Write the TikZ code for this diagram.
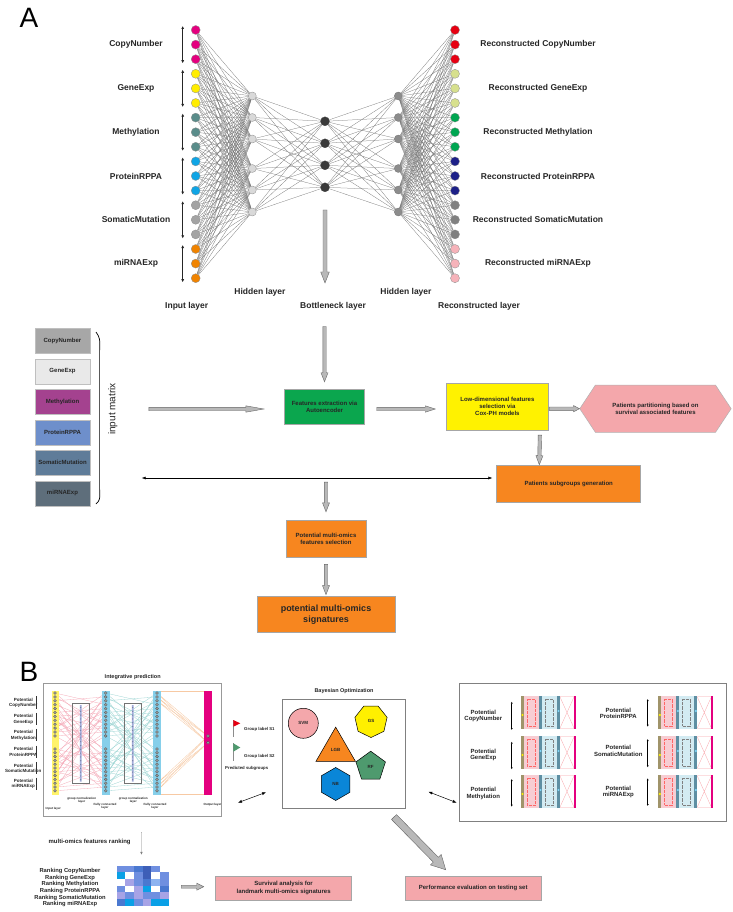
\documentclass[tikz,border=0pt]{standalone}
\usepackage{fontspec}
\setmainfont{Liberation Sans}
\usepackage{tikz}
\usetikzlibrary{arrows.meta, positioning, calc, shapes.geometric, shapes.symbols}
\usepackage{xcolor}

\definecolor{cnC}{HTML}{E4007F}
\definecolor{geC}{HTML}{FFED00}
\definecolor{meC}{HTML}{5A8C8A}
\definecolor{prC}{HTML}{10A5E5}
\definecolor{smC}{HTML}{A3A3A3}
\definecolor{miC}{HTML}{F08300}
\definecolor{rcnC}{HTML}{E60012}
\definecolor{rgeC}{HTML}{D7E08E}
\definecolor{rmeC}{HTML}{00A651}
\definecolor{rprC}{HTML}{1D2088}
\definecolor{rsmC}{HTML}{808080}
\definecolor{rmiC}{HTML}{F6B3BA}
\definecolor{hidC}{HTML}{D9D9D9}
\definecolor{botC}{HTML}{3A3A3A}
\definecolor{hidtwoC}{HTML}{8C8C8C}
\definecolor{mcnC}{HTML}{A7A7A7}
\definecolor{mgeC}{HTML}{E9E9E9}
\definecolor{mmeC}{HTML}{A4428F}
\definecolor{mprC}{HTML}{6E8FCB}
\definecolor{msmC}{HTML}{5F7C99}
\definecolor{mmiC}{HTML}{5E6E7B}
\definecolor{greenBox}{HTML}{0BA64E}
\definecolor{yellowBox}{HTML}{FFF200}
\definecolor{pinkBox}{HTML}{F4A7AB}
\definecolor{orangeBox}{HTML}{F7861F}
\definecolor{txtC}{HTML}{262626}
\definecolor{ipYel}{HTML}{FFF36B}
\definecolor{fcBlue}{HTML}{86CFEA}
\definecolor{gnBar}{HTML}{A3ADDB}
\definecolor{pinkLine}{HTML}{F5A9B8}
\definecolor{tealLine}{HTML}{9ED6D4}
\definecolor{orLine}{HTML}{F7C9A3}
\definecolor{netPink}{HTML}{F7CDD3}
\definecolor{netBlue}{HTML}{D3EBF2}
\definecolor{netOlive}{HTML}{A0946A}
\definecolor{netSteel}{HTML}{5E8FA3}
\definecolor{gsC}{HTML}{FFF000}
\definecolor{rfC}{HTML}{4E9A6E}
\definecolor{nbC}{HTML}{0A86D8}
\definecolor{hmA}{HTML}{4A78D0}
\definecolor{hmB}{HTML}{6F8FE0}
\definecolor{hmD}{HTML}{0AA0E6}
\definecolor{hmE}{HTML}{A7A3E6}
\definecolor{hmF}{HTML}{8DB3F0}
\definecolor{hmG}{HTML}{3D5FB8}

\begin{document}
\begin{tikzpicture}[
    x=1pt, y=-1pt,
    neuron/.style={circle, draw=black!45, line width=0.3pt, minimum size=9pt, inner sep=0pt},
    link/.style={draw=black!55, line width=0.25pt},
    lab/.style={font=\bfseries\fontsize{8.5}{10}\selectfont, text=txtC},
    blab/.style={font=\bfseries\fontsize{6}{6.8}\selectfont, text=txtC, align=center},
    xslab/.style={font=\bfseries\fontsize{4.5}{5.5}\selectfont, text=txtC, align=center},
    microlab/.style={font=\bfseries\fontsize{3}{3.4}\selectfont, text=txtC, align=center},
    box/.style={draw=black!35, line width=0.5pt, rectangle, align=center, inner sep=1pt, font=\bfseries\fontsize{6}{7.2}\selectfont, text=txtC},
    mbox/.style={box, draw=black!25, minimum width=55pt, minimum height=25pt},
    bracket/.style={{Latex[length=3pt,width=3pt]}-{Latex[length=3pt,width=3pt]}, line width=1.2pt, black!85},
    dbl/.style={{Latex[length=4pt,width=3pt]}-{Latex[length=4pt,width=3pt]}, line width=0.5pt},
    fat w/.store in=\fatw, fat h/.store in=\fath, fat l/.store in=\fatl,
    fat w=1.7pt, fat h=3.5pt, fat l=9pt,
    fatarrow/.style={draw=black!60, fill=black!28, line width=0.4pt,
      to path={let \p1=(\tikztostart), \p2=(\tikztotarget),
        \n1={atan2(\y2-\y1,\x2-\x1)}, \n2={veclen(\x2-\x1,\y2-\y1)} in
        ([shift={(\p1)},rotate=\n1]0pt,-\fatw) -- ([shift={(\p1)},rotate=\n1]{\n2-\fatl},-\fatw)
        -- ([shift={(\p1)},rotate=\n1]{\n2-\fatl},-\fath) -- (\p2)
        -- ([shift={(\p1)},rotate=\n1]{\n2-\fatl},\fath) -- ([shift={(\p1)},rotate=\n1]{\n2-\fatl},\fatw)
        -- ([shift={(\p1)},rotate=\n1]0pt,\fatw) -- cycle}}
]
\fill[white] (0,0) rectangle (732,912);
\useasboundingbox (0,0) rectangle (732,912);

% Painel A: autoencoder
\node[font=\fontsize{28}{30}\selectfont] (panelA) at (29,18) {A};

\foreach \col/\omic [count=\k] in {cnC/CopyNumber, geC/GeneExp, meC/Methylation, prC/ProteinRPPA, smC/SomaticMutation, miC/miRNAExp} {
  \foreach \j in {1,2,3} {
    \pgfmathtruncatemacro{\i}{3*(\k-1)+\j}
    \node[neuron, fill=\col] (in\i) at (195.7,{30+14.6*(\i-1)}) {};
  }
  \pgfmathtruncatemacro{\a}{3*\k-2}
  \pgfmathtruncatemacro{\m}{3*\k-1}
  \pgfmathtruncatemacro{\b}{3*\k}
  \node[lab] (lin\k) at ($(in\m)+(-59.7,0)$) {\omic};
  \draw[bracket] ($(in\a)+(-13,-4)$) -- ($(in\b)+(-13,4)$);
}

\foreach \col/\omic [count=\k] in {rcnC/CopyNumber, rgeC/GeneExp, rmeC/Methylation, rprC/ProteinRPPA, rsmC/SomaticMutation, rmiC/miRNAExp} {
  \foreach \j in {1,2,3} {
    \pgfmathtruncatemacro{\i}{3*(\k-1)+\j}
    \node[neuron, fill=\col] (out\i) at (455,{30+14.6*(\i-1)}) {};
  }
  \pgfmathtruncatemacro{\m}{3*\k-1}
  \node[lab] (lout\k) at ($(out\m)+(83,0)$) {Reconstructed \omic};
}

% camadas escondidas
\foreach \y [count=\i] in {96,117.5,139,168.5,190,212} {
  \node[neuron, fill=hidC, minimum size=8pt] (h\i) at (252.3,\y) {};
  \node[neuron, fill=hidtwoC, draw=black!55, minimum size=8pt] (g\i) at (398.3,\y) {};
}
\foreach \i in {1,...,4}
  \node[neuron, fill=botC, draw=botC] (b\i) at (325,{121.3+22*(\i-1)}) {};

% ligacoes
\foreach \i in {1,...,18} {
  \foreach \j in {1,...,6} {
    \draw[link] (in\i) -- (h\j);
    \draw[link] (g\j) -- (out\i);
  }
}
\foreach \i in {1,...,6} {
  \foreach \j in {1,...,4} {
    \draw[link] (h\i) -- (b\j);
    \draw[link] (b\j) -- (g\i);
  }
}

\node[lab] (linput) at (186.7,306.7) {Input layer};
\node[lab] (lhid) at (260,292.7) {Hidden layer};
\node[lab] (lbot) at (333,306.7) {Bottleneck layer};
\node[lab] (lhidtwo) at (406,292.7) {Hidden layer};
\node[lab] (lrec) at (479,306.7) {Reconstructed layer};

% Fluxo principal
\node[mbox, fill=mcnC] (m1) at (62.5,340.8) {CopyNumber};
\node[mbox, fill=mgeC, below=5pt of m1] (m2) {GeneExp};
\node[mbox, fill=mmeC, below=5pt of m2] (m3) {Methylation};
\node[mbox, fill=mprC, below=5pt of m3] (m4) {ProteinRPPA};
\node[mbox, fill=msmC, below=5pt of m4] (m5) {SomaticMutation};
\node[mbox, fill=mmiC, below=5pt of m5] (m6) {miRNAExp};
\draw[line width=0.7pt] (96,332) .. controls (100,338) .. (99.6,352) -- (99.6,488) .. controls (100,500) .. (96,504);
\node[rotate=90, font=\fontsize{10}{12}\selectfont, text=txtC] (inmat) at (112.7,409) {input matrix};

\node[box, fill=greenBox, minimum width=80pt, minimum height=35pt] (fe) at (324.5,406.5) {Features extraction via\\Autoencoder};
\node[box, fill=yellowBox, minimum width=101.7pt, minimum height=46.7pt, right=81.5pt of fe] (ld) {Low-dimensional features\\selection via\\Cox-PH models};
\node[box, signal, signal to=east and west, signal pointer angle=113, draw=black!30, fill=pinkBox, minimum width=151.4pt, minimum height=47.3pt, right=31pt of ld, yshift=-2.2pt] (pp) {Patients partitioning based on\\survival associated features};
\node[box, fill=orangeBox, minimum width=144pt, minimum height=37.7pt] (psg) at (568.7,483.8) {Patients subgroups generation};
\node[box, fill=orangeBox, minimum width=80pt, minimum height=37.3pt] (pmfs) at (326,538.7) {Potential multi-omics\\features selection};
\node[box, fill=orangeBox, minimum width=137.7pt, minimum height=36pt, font=\bfseries\fontsize{9}{10.5}\selectfont, below=38.7pt of pmfs] (pms) {potential multi-omics\\signatures};

% Setas
\draw[fatarrow, fat w=2pt, fat h=4.3pt, fat l=11pt] ($(b4.south)+(0,18)$) to ($(b4.south)+(0,91)$);
\draw[fatarrow] ($(fe.north)+(0,-62.3)$) to ($(fe.north)+(0,-7)$);
\draw[fatarrow, fat l=18pt, fat h=3.2pt] ($(inmat.south)+(28,0)$) to ($(fe.west)+(-20.4,2.5)$);
\draw[fatarrow, fat h=3.2pt, fat l=10pt] ($(fe.east)+(12,2.5)$) to ($(ld.west)+(-11,2.5)$);
\draw[fatarrow, fat h=3.2pt, fat l=6pt] ($(ld.east)+(0.6,2.2)$) to (pp.west);
\draw[fatarrow] ($(ld.south)+(42.5,5)$) to ($(psg.north)+(-29.4,0)$);
\coordinate (back) at (141.7,478);
\draw[dbl] (back) -- ($(psg.west)+(-4,-5.8)$);
\draw[fatarrow] ($(pmfs.north)+(0,-37.7)$) to ($(pmfs.north)+(0,-8)$);
\draw[fatarrow] ($(pmfs.south)+(0,6.7)$) to ($(pms.north)+(0,-1.7)$);

% Painel B
\node[font=\fontsize{28}{30}\selectfont] (panelB) at (29,672) {B};

% predicao integrativa
\node[font=\bfseries\fontsize{5.5}{6.5}\selectfont, text=txtC] (iptitle) at (132.7,676.7) {Integrative prediction};
\node[draw=black!40, line width=0.8pt, minimum width=177.7pt, minimum height=133.4pt, inner sep=0pt] (ipbox) at (132.15,750) {};
\foreach \omic/\y [count=\k] in {CopyNumber/702.7, GeneExp/719.3, Methylation/735.3, ProteinRPPA/752, SomaticMutation/768.3, miRNAExp/784} {
  \node[xslab] (pl\k) at (23.3,\y) {Potential\\\omic};
  \draw[line width=1pt, black!80] (36.7,\y-6.5) -- (36.7,\y+6);
}
\foreach \i in {0,...,23} {
  \pgfmathsetmacro{\ya}{ifthenelse(\i<12, 693+3.9*\i, 749+3.8*(\i-12))}
  \pgfmathtruncatemacro{\ja}{mod(\i*5+3,24)}
  \pgfmathtruncatemacro{\jb}{mod(\i*7+11,24)}
  \pgfmathsetmacro{\yb}{ifthenelse(\ja<12, 693+3.9*\ja, 749+3.8*(\ja-12))}
  \pgfmathsetmacro{\yc}{ifthenelse(\jb<12, 693+3.9*\jb, 749+3.8*(\jb-12))}
  \draw[pinkLine, line width=0.3pt] (55,\ya) -- (105.7,\yb) (55,\ya) -- (105.7,\yc);
  \draw[tealLine, line width=0.3pt] (105.7,\ya) -- (157,\yb) (105.7,\ya) -- (157,\yc);
}
\foreach \i in {0,1,2,21,22,23} {
  \pgfmathsetmacro{\ya}{ifthenelse(\i<12, 693+3.9*\i, 749+3.8*(\i-12))}
  \draw[orLine, line width=0.3pt] (157,\ya) -- (208,736) (157,\ya) -- (208,742.7);
}
\draw[orLine, line width=0.3pt] (161,691.5) -- (204.3,691.5) (161,794) -- (204.3,794);
\draw[black!55, line width=0.4pt] (72.3,703.3) rectangle (89,783.3) (124.3,703.3) rectangle (141,783.3);
\fill[ipYel] (51.7,690.7) rectangle (59,795);
\fill[fcBlue] (101.7,690.7) rectangle (110,795);
\fill[fcBlue] (153.3,690.7) rectangle (161,795);
\fill[cnC] (204.3,690.7) rectangle (211.7,795);
\fill[gnBar] (79.9,705) rectangle (81.5,781.7) (131.9,705) rectangle (133.5,781.7);
\foreach \x in {55,105.7,157} {
  \foreach \i in {0,...,23} {
    \pgfmathsetmacro{\ya}{ifthenelse(\i<12, 693+3.9*\i, 749+3.8*(\i-12))}
    \filldraw[fill=black!40, draw=black!70, line width=0.2pt] (\x,\ya) circle (1.5);
  }
}
\foreach \x in {80.7,132.7} {
  \foreach \k in {0,...,19}
    \fill[gnBar!70!black] (\x,{707.5+3.8*\k}) circle (0.6);
}
\filldraw[fill=black!40, draw=black!70, line width=0.2pt] (208,736) circle (1.6) (208,742.7) circle (1.6);
\node[microlab] (tin) at (53.3,808.3) {Input layer};
\node[microlab] (tgnone) at (81.7,800) {group normalization\\layer};
\node[microlab] (tfcone) at (105,806) {Fully connected\\layer};
\node[microlab] (tgntwo) at (133.3,800) {group normalization\\layer};
\node[microlab] (tfctwo) at (155,806) {Fully connected\\layer};
\node[microlab] (tout) at (212.5,804.3) {Output layer};

% subgrupos previstos
\draw[black!45, line width=0.5pt] (233.3,720) -- (233.3,737) (233.3,743.3) -- (233.3,761);
\fill[rcnC] (233.3,720) -- (240.3,723.3) -- (233.3,726.7) -- cycle;
\fill[rfC] (233.3,743.3) -- (240.3,747.5) -- (233.3,751.7) -- cycle;
\node[xslab, anchor=west, font=\bfseries\fontsize{4.3}{5}\selectfont] (gs1) at (240.7,729) {Group label S1};
\node[xslab, anchor=west, font=\bfseries\fontsize{4.3}{5}\selectfont] (gs2) at (240.7,756.7) {Group label S2};
\node[xslab, anchor=west, font=\bfseries\fontsize{4.3}{5}\selectfont] (predsub) at (221.7,768.3) {Predicted subgroups};

% otimizacao bayesiana
\node[font=\bfseries\fontsize{5.5}{6.5}\selectfont, text=txtC] (botitle) at (344,690.7) {Bayesian Optimization};
\node[draw=black!50, line width=0.6pt, minimum width=123.4pt, minimum height=109pt, inner sep=0pt] (bobox) at (344,753.8) {};
\node[circle, draw, line width=0.5pt, fill=pinkBox, minimum size=30pt, xslab] (svm) at (303.3,723.3) {SVM};
\node[regular polygon, regular polygon sides=7, shape border rotate=180, draw, line width=0.5pt, fill=gsC, minimum size=33pt, xslab] (gs) at (371,721) {GS};
\node[regular polygon, regular polygon sides=3, draw, line width=0.5pt, fill=orangeBox, minimum size=38pt, xslab] (lgb) at (335.7,750) {LGB};
\node[regular polygon, regular polygon sides=5, draw, line width=0.5pt, fill=rfC, minimum size=31pt, xslab] (rf) at (370.7,766.7) {RF};
\node[regular polygon, regular polygon sides=6, shape border rotate=30, draw, line width=0.5pt, fill=nbC, minimum size=33pt, xslab] (nb) at (335.7,784) {NB};

% modelos individuais
\node[draw=black!50, line width=0.6pt, minimum width=266.7pt, minimum height=138.4pt, inner sep=0pt] (rtbox) at (592.65,752.5) {};
\foreach \omic/\y [count=\k] in {CopyNumber/716, GeneExp/755, Methylation/793.3}
  \node[blab] (rl\k) at (483.3,\y) {Potential\\\omic};
\foreach \omic/\y [count=\k] in {ProteinRPPA/713.3, SomaticMutation/750.7, miRNAExp/792}
  \node[blab] (rr\k) at (618.3,\y) {Potential\\\omic};
\foreach \x/\ya/\yb in {511.7/701.7/730, 511.7/741.7/769.3, 511.7/779/806.7, 647.7/699/726.7, 647.7/739/767.3, 647.7/778.3/806}
  \draw[{Latex[length=2pt,width=2pt]}-{Latex[length=2pt,width=2pt]}, line width=0.6pt] (\x,\ya) -- (\x,\yb);
\foreach \xo/\yo in {521/696, 521/736, 521/775, 658.3/696, 658.3/736, 658.3/775} {
  \begin{scope}[shift={(\xo,\yo)}]
    \fill[netPink] (3,0) rectangle (18,33);
    \fill[netBlue] (21,0) rectangle (36,33);
    \draw[netPink!80!red, line width=0.3pt] (39,1) -- (53,32) (39,32) -- (53,1) (39,0.5) -- (53,0.5) (39,32.5) -- (53,32.5);
    \draw[red!60, densely dotted, line width=0.3pt] (6,3) rectangle (14,30);
    \draw[black!50, densely dotted, line width=0.3pt] (24,3) rectangle (32,30);
    \fill[netOlive] (0,0) rectangle (3,33);
    \fill[netSteel] (18,0) rectangle (21,33);
    \fill[netSteel] (36,0) rectangle (39,33);
    \fill[cnC] (53,0) rectangle (55,33);
    \fill[yellow] (1.5,19) circle (1.2);
    \fill[cyan!50] (19.5,15) circle (1.2) (37.5,15) circle (1.2);
  \end{scope}
}

% ligacoes entre paineis
\coordinate (dlA) at (238,802.7);
\coordinate (dlB) at (266,792.3);
\draw[dbl] (dlA) -- (dlB);
\coordinate (drA) at (428.3,791.7);
\coordinate (drB) at (456.7,802.7);
\draw[dbl] (drA) -- (drB);

% ranking e avaliacao
\node[font=\bfseries\fontsize{6}{7}\selectfont, text=txtC] (rankt) at (89.6,842.3) {multi-omics features ranking};
\node[font=\bfseries\fontsize{5.8}{6.66}\selectfont, text=txtC, align=center] (ranklab) at (70,887.7) {Ranking CopyNumber\\Ranking GeneExp\\Ranking Methylation\\Ranking ProteinRPPA\\Ranking SomaticMutation\\Ranking miRNAExp};
\node[minimum width=52.3pt, minimum height=40pt, inner sep=0pt] (hm) at (142.85,886) {};
\foreach \c [count=\n from 0] in {hmB,hmB,hmA,hmG,hmB,white, hmD,white,hmB,hmG,white,hmB, white,hmE,hmB,hmA,hmF,hmB, hmB,white,hmE,hmD,white,hmA, hmE,hmB,hmE,hmB,hmB,hmE, hmA,hmD,hmB,hmE,hmD,hmD} {
  \pgfmathtruncatemacro{\cx}{mod(\n,6)}
  \pgfmathtruncatemacro{\cy}{div(\n,6)}
  \fill[\c] ($(hm.north west)+(\cx*8.72,\cy*6.67)$) rectangle ++(8.72,6.67);
}
\node[box, fill=pinkBox, minimum width=135.8pt, minimum height=24pt] (surv) at (283.6,888) {Survival analysis for\\landmark multi-omics signatures};
\node[box, fill=pinkBox, minimum width=136.5pt, minimum height=24pt] (perf) at (473.2,888) {Performance evaluation on testing set};

\draw[-{Latex[length=3pt,width=2.5pt]}, line width=0.4pt, black!50] ($(ipbox.south)+(9.4,15)$) -- ($(hm.north)+(-1.4,-11)$);
\draw[fatarrow, fat w=1.5pt, fat h=3.5pt, fat l=7pt] ($(hm.east)+(12,0.7)$) to ($(surv.west)+(-11.7,-1.3)$);
\draw[fatarrow, fat w=3.5pt, fat h=7.5pt, fat l=14pt] ($(bobox.south east)+(-12,8.4)$) to ($(perf.north)+(-27.5,-6)$);

\end{tikzpicture}
\end{document}
